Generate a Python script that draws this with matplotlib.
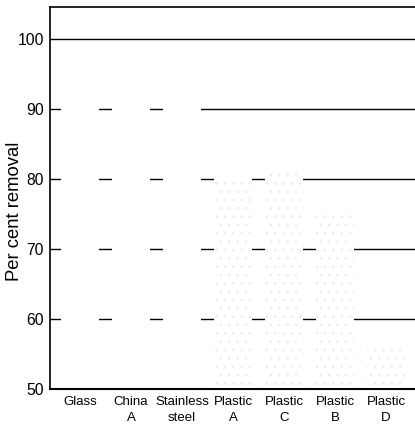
import numpy as np
import matplotlib.pyplot as plt

# surfaces and per cent removal
surfaces = ["Glass", "China\nA", "Stainless\nsteel", "Plastic\nA",
            "Plastic\nC", "Plastic\nB", "Plastic\nD"]
removal = [99.6, 97.0, 96.0, 80.4, 81.6, 75.2, 56.5]
yticks = [50, 60, 70, 80, 90, 100]

plt.rcParams['font.family'] = ['Liberation Sans', 'DejaVu Sans']
plt.rcParams['hatch.linewidth'] = 0.6

fig = plt.figure(figsize=(4.15, 4.28), dpi=100)
ax = fig.add_axes([0.1205, 0.0911, 0.8795, 0.8925])

x = np.arange(len(surfaces))
# grid first, white bars hide it
for v in yticks[1:]:
  ax.axhline(v, color='black', lw=1.0, zorder=1)

bars = ax.bar(x, [r - 50 for r in removal], bottom=50, width=0.75,
              color='white', edgecolor='none', zorder=2)
# faint stipple on the plastic bars
for b in bars[3:]:
  b.set_hatch('..')
  b.set_edgecolor('#ebebeb')
  b.set_linewidth(0)

ax.set_xlim(-0.59, 6.57)
ax.set_ylim(50, 104.6)
ax.set_yticks(yticks)
ax.set_yticklabels([str(v) for v in yticks], fontsize=11.3)
ax.set_xticks(x)
ax.set_xticklabels(surfaces, fontsize=9.5, linespacing=1.5)
ax.tick_params(axis='both', length=0)
ax.tick_params(axis='y', pad=4.5)
ax.tick_params(axis='x', pad=5)
ax.set_ylabel("Per cent removal", fontsize=13.3)
ax.yaxis.set_label_coords(-0.074, 0.466)

for s in ['left', 'top']:
  ax.spines[s].set_linewidth(1.2)
ax.spines['bottom'].set_linewidth(1.5)
ax.spines['right'].set_visible(False)

fig.savefig("out.png", dpi=100)
